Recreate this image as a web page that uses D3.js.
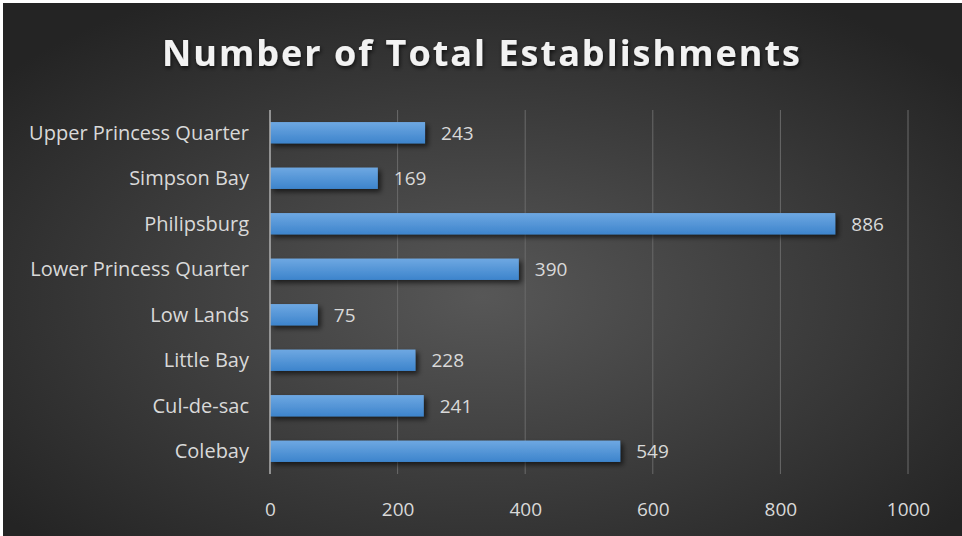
<!DOCTYPE html>
<html>
<head>
<meta charset="utf-8">
<script src="https://cdn.jsdelivr.net/npm/d3@7"></script>
<style>
  body { margin: 0; background: #fff; }
  svg { display: block; }
  text { font-family: "Open Sans", "Noto Sans", sans-serif; }
</style>
</head>
<body>
<svg id="chart"></svg>
<script>
var categories = ["Upper Princess Quarter", "Simpson Bay", "Philipsburg", "Lower Princess Quarter", "Low Lands", "Little Bay", "Cul-de-sac", "Colebay"];
var values = [243, 169, 886, 390, 75, 228, 241, 549];
var xTicks = [0, 200, 400, 600, 800, 1000];

var width = 962, height = 536;
var margin = {top: 110, right: 54, bottom: 62, left: 270};
var numFont = 19;

var svg = d3.select('#chart')
    .attr("width", width)
    .attr("height", height);

var defs = svg.append("defs");

// background radial gradient
var bg = defs.append("radialGradient")
    .attr("id", "bg")
    .attr("cx", "50%").attr("cy", "55%").attr("r", "65%");
bg.append("stop").attr("offset", "0%").attr("stop-color", "#575757");
bg.append("stop").attr("offset", "100%").attr("stop-color", "#242424");

// bar gradient
var barGrad = defs.append("linearGradient")
    .attr("id", "barGrad")
    .attr("x1", 0).attr("y1", 0).attr("x2", 0).attr("y2", 1);
barGrad.append("stop").attr("offset", "0%").attr("stop-color", "#6ea8e2");
barGrad.append("stop").attr("offset", "100%").attr("stop-color", "#3d84cc");

var shadow = defs.append("filter").attr("id", "shadow")
    .attr("x", "-10%").attr("y", "-50%").attr("width", "130%").attr("height", "220%");
shadow.append("feDropShadow")
    .attr("dx", 3).attr("dy", 3).attr("stdDeviation", 2.5)
    .attr("flood-color", "#000").attr("flood-opacity", 0.6);

var titleShadow = defs.append("filter").attr("id", "tshadow")
    .attr("x", "-10%").attr("y", "-50%").attr("width", "120%").attr("height", "200%");
titleShadow.append("feDropShadow")
    .attr("dx", 1).attr("dy", 2).attr("stdDeviation", 2)
    .attr("flood-color", "#000").attr("flood-opacity", 0.7);

svg.append("rect")
    .attr("x", 3).attr("y", 3)
    .attr("width", width - 3).attr("height", height - 3)
    .attr("fill", "url(#bg)");

// title
svg.append("text")
    .attr("x", 481)
    .attr("y", 66)
    .attr("text-anchor", "middle")
    .attr("fill", "#f2f2f2")
    .attr("font-size", 36)
    .attr("font-weight", "bold")
    .attr("textLength", 638)
    .attr("lengthAdjust", "spacing")
    .attr("filter", "url(#tshadow)")
    .text("Number of Total Establishments");

var xScale = d3.scaleLinear()
    .domain([0, 1000])
    .range([margin.left, width - margin.right]);

var yScale = d3.scaleBand()
    .domain(categories)
    .range([margin.top, height - margin.bottom])
    .paddingInner(0.53)
    .paddingOuter(0.265);

// gridlines
svg.append("g")
    .selectAll("line")
    .data(xTicks.slice(1))
    .enter()
    .append("line")
    .attr("x1", function(d) { return xScale(d); })
    .attr("x2", function(d) { return xScale(d); })
    .attr("y1", margin.top)
    .attr("y2", height - margin.bottom)
    .attr("stroke", "#6a6a6a")
    .attr("stroke-width", 1);

// bars
svg.append("g")
    .selectAll("rect")
    .data(values)
    .enter()
    .append("rect")
    .attr("x", xScale(0))
    .attr("y", function(d, i) { return yScale(categories[i]); })
    .attr("width", function(d) { return xScale(d) - xScale(0); })
    .attr("height", yScale.bandwidth())
    .attr("fill", "url(#barGrad)")
    .attr("filter", "url(#shadow)");

// axis line at zero
svg.append("line")
    .attr("x1", xScale(0)).attr("x2", xScale(0))
    .attr("y1", margin.top).attr("y2", height - margin.bottom)
    .attr("stroke", "#b0b0b0")
    .attr("stroke-width", 1.5);

// value labels
svg.append("g")
    .selectAll("text")
    .data(values)
    .enter()
    .append("text")
    .attr("x", function(d) { return xScale(d) + 16; })
    .attr("y", function(d, i) { return yScale(categories[i]) + yScale.bandwidth() / 2; })
    .attr("dy", "0.36em")
    .attr("fill", "#d9d9d9")
    .attr("font-size", numFont)
    .text(function(d) { return d; });

// category axis labels
svg.append("g")
    .selectAll("text")
    .data(categories)
    .enter()
    .append("text")
    .attr("x", margin.left - 21)
    .attr("y", function(d) { return yScale(d) + yScale.bandwidth() / 2; })
    .attr("dy", "0.36em")
    .attr("text-anchor", "end")
    .attr("fill", "#d9d9d9")
    .attr("font-size", 20)
    .text(function(d) { return d; });

// x axis tick labels
var xAxis = d3.axisBottom(xScale).tickValues(xTicks).tickFormat(d3.format("d")).tickSize(0).tickPadding(0);
var gx = svg.append("g")
    .attr("transform", "translate(0," + (height - margin.bottom) + ")")
    .call(xAxis);
gx.select(".domain").remove();
gx.selectAll("text")
    .attr("y", 35)
    .attr("dy", "0.36em")
    .attr("fill", "#d9d9d9")
    .attr("font-size", numFont)
    .style("font-family", "'Open Sans', 'Noto Sans', sans-serif");
</script>
</body>
</html>
